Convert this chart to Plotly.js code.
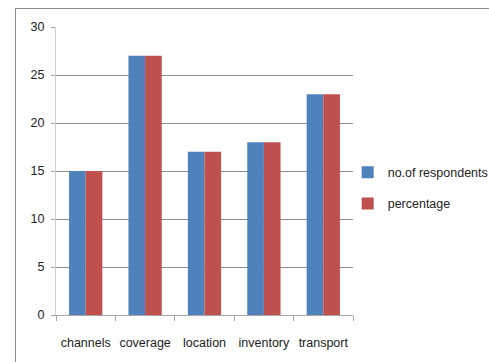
<!DOCTYPE html>
<html>
<head>
<meta charset="utf-8">
<script src="https://cdn.plot.ly/plotly-3.0.1.min.js"></script>
<style>
  html, body { margin: 0; padding: 0; background: #fff; overflow: hidden; }
  #frame { position: absolute; left: 15px; top: 8px; width: 500px; height: 380px;
           border: 1px solid #8c8c8c; box-sizing: border-box; }
  #chart { position: absolute; left: 0; top: 0; width: 489px; height: 362px; }
</style>
</head>
<body>
<div id="frame"></div>
<div id="chart"></div>
<script>
// Survey factors and their counts
const categories = ["channels", "coverage", "location", "inventory", "transport"];
const respondents = [15, 27, 17, 18, 23];
const percentage = [15, 27, 17, 18, 23];
const seriesNames = ["no.of respondents", "percentage"];
const yTicks = [0, 5, 10, 15, 20, 25, 30];

const font = { family: "Liberation Sans, Arial, sans-serif", size: 12.5, color: "#222" };

const traces = [
  { type: "bar", name: seriesNames[0], x: categories, y: respondents,
    marker: { color: "#4F81BD" }, legendgroup: "a", hoverinfo: "none" },
  { type: "bar", name: seriesNames[1], x: categories, y: percentage,
    marker: { color: "#C0504D" }, legendgroup: "b", hoverinfo: "none" }
];

const layout = {
  width: 489, height: 362,
  margin: { l: 56, r: 136, t: 27, b: 47, autoexpand: false },
  paper_bgcolor: "rgba(0,0,0,0)",
  plot_bgcolor: "rgba(0,0,0,0)",
  font: font,
  barmode: "group",
  bargap: 0.44,
  bargroupgap: 0,
  xaxis: {
    type: "category",
    automargin: false,
    tickangle: 0,
    showgrid: false,
    showline: true, linecolor: "#a6a6a6", linewidth: 1,
    ticks: "outside", ticklen: 5, tickcolor: "#a6a6a6",
    tickson: "boundaries",
    ticklabelstandoff: 16,
    tickfont: font
  },
  yaxis: {
    automargin: false,
    range: [0, 30],
    tickvals: yTicks,
    showgrid: true, gridcolor: "#8c8c8c", gridwidth: 1,
    showline: true, linecolor: "#d0d0d0", linewidth: 1,
    ticks: "outside", ticklen: 4, tickcolor: "#a6a6a6",
    ticklabelstandoff: 4,
    zeroline: false,
    tickfont: font
  },
  showlegend: true,
  legend: {
    xref: "container", yref: "container",
    x: 0.711, xanchor: "left", y: 0.48, yanchor: "middle",
    font: { family: font.family, size: 12.5, color: "#222" },
    tracegroupgap: 12,
    itemwidth: 30
  }
};

Plotly.newPlot("chart", traces, layout, { staticPlot: true });
</script>
</body>
</html>
